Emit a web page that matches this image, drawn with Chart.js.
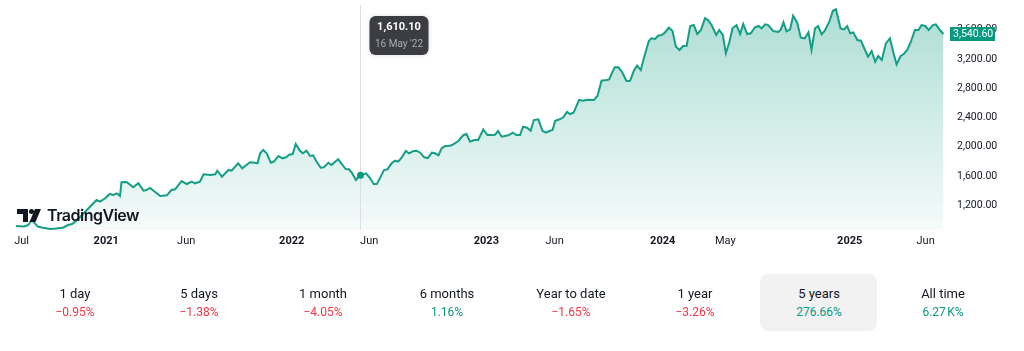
<!DOCTYPE html>
<html>
<head>
<meta charset="utf-8">
<script src="https://cdn.jsdelivr.net/npm/chart.js@4/dist/chart.umd.min.js"></script>
<style>
  html, body { margin: 0; padding: 0; background: #ffffff; width: 1024px; height: 351px; overflow: hidden; font-family: Roboto, 'Liberation Sans', sans-serif; }
  #wrap { position: absolute; left: 0; top: 0; width: 1024px; height: 255px; }
  #logo { position: absolute; left: 17px; top: 207px; height: 16px; display: flex; align-items: center; }
  #logo span { font-family: Inter, Roboto, sans-serif; font-weight: 600; font-size: 16px; letter-spacing: -0.5px; color: #131722; margin-left: 6px; line-height: 16px; }
  #stats { position: absolute; left: 13px; top: 274px; display: flex; }
  .cell { width: 124px; height: 57px; position: relative; text-align: center; }
  .cell.sel::before { content: ""; position: absolute; left: 3px; right: 4px; top: 0; bottom: 0; background: #f2f2f2; border-radius: 8px; }
  .cell .t { position: absolute; left: 0; right: 0; top: 12px; font-size: 13px; color: #131722; line-height: 16px; }
  .cell .v { position: absolute; left: 0; right: 0; top: 31px; font-size: 12px; line-height: 15px; }
  .neg { color: #f23645; }
  .pos { color: #089981; }
</style>
</head>
<body>
<div id="wrap"><canvas id="c"></canvas></div>
<div id="logo">
  <svg width="24" height="13" viewBox="0 0 24 13"><path d="M0 0H11V13H6V5H0Z" fill="#131722"/><circle cx="14.5" cy="2.5" r="2.5" fill="#131722"/><path d="M18 0H24L18.5 13H12.5Z" fill="#131722"/></svg>
  <span>TradingView</span>
</div>
<div id="stats"></div>
<script>
// x values: days since 2020-07-01
const dayOffsets = [9,25,33,40,52,62,76,87,101,111,
119,129,148,167,174,184,193,200,207,213,
216,226,239,249,259,265,272,292,305,314,
321,334,344,354,360,370,377,390,400,404,
413,426,432,445,453,468,478,483,488,494,
501,509,515,524,532,539,545,552,558,566,
572,579,586,592,599,607,613,622,628,641,
648,656,662,668,676,684,696,704,711,717,
723,731,738,746,753,759,766,774,780,789,
795,802,810,817,825,831,838,844,851,861,
867,877,887,893,900,908,916,926,934,942,
949,955,962,975,984,991,998,1004,1012,1019,
1025,1034,1042,1049,1057,1062,1067,1076,1083,1090,
1096,1103,1114,1122,1130,1143,1150,1158,1168,1173,
1178,1184,1191,1198,1207,1214,1222,1228,1235,1241,
1251,1256,1263,1269,1276,1282,1290,1297,1304,1311,
1318,1325,1332,1339,1346,1353,1361,1367,1374,1383,
1389,1396,1402,1409,1415,1423,1430,1436,1444,1451,
1459,1466,1472,1479,1485,1495,1505,1510,1515,1521,
1528,1534,1542,1549,1557,1564,1570,1577,1583,1590,
1596,1605,1612,1618,1627,1634,1640,1646,1652,1660,
1667,1673,1681,1688,1695,1701,1708,1716,1724,1731,
1737,1745,1751,1758,1765,1773,1780,1786,1793,1800,
1808,1814,1822,1829];

const prices = [918,911,931,1000,908,894,877,883,894,931,
945,1000,1136,1273,1250,1296,1355,1341,1364,1327,
1515,1519,1446,1501,1400,1409,1437,1327,1337,1409,
1419,1532,1491,1523,1501,1523,1624,1614,1624,1673,
1591,1683,1673,1774,1706,1788,1782,1774,1911,1956,
1911,1782,1796,1874,1842,1856,1892,1901,2038,1946,
1911,1946,1874,1883,1796,1714,1719,1782,1751,1829,
1765,1696,1692,1646,1546,1610.10,1637,1569,1491,1490,
1569,1682,1692,1774,1810,1796,1856,1942,1911,1942,
1946,1919,1856,1846,1919,1911,1883,1979,2010,2014,
2034,2079,2161,2174,2069,2092,2092,2238,2161,2161,
2165,2215,2137,2156,2192,2161,2161,2274,2260,2219,
2365,2375,2219,2192,2219,2229,2356,2375,2402,2475,
2447,2465,2639,2629,2643,2639,2693,2902,2912,2921,
3003,3085,3085,3025,2898,2902,3048,3107,3048,3208,
3449,3481,3472,3517,3527,3558,3626,3585,3367,3322,
3376,3380,3650,3663,3540,3595,3755,3731,3663,3527,
3595,3527,3277,3435,3618,3663,3540,3677,3540,3550,
3632,3650,3618,3673,3663,3581,3568,3604,3700,3577,
3604,3790,3695,3490,3481,3563,3322,3618,3650,3536,
3585,3708,3858,3878,3618,3604,3650,3550,3563,3458,
3449,3353,3230,3308,3162,3240,3185,3413,3481,3277,
3126,3240,3267,3322,3435,3595,3595,3663,3650,3595,
3663,3673,3595,3540.60];

const xTickDays = [20, 186, 343, 550, 702, 932, 1066, 1278, 1401, 1645, 1794];
const xTickLabels = ['Jul', '2021', 'Jun', '2022', 'Jun', '2023', 'Jun', '2024', 'May', '2025', 'Jun'];
const yTickValues = [1200, 1600, 2000, 2400, 2800, 3200, 3600];

const highlightDay = 684;
const highlightDate = "16 May '22";

const periodLabels = ['1 day', '5 days', '1 month', '6 months', 'Year to date', '1 year', '5 years', 'All time'];
const periodChanges = ['\u22120.95%', '\u22121.38%', '\u22124.05%', '1.16%', '\u22121.65%', '\u22123.26%', '276.66%', '6.27\u202FK%'];
const selectedPeriod = '5 years';

// stats row
const stats = document.getElementById('stats');
periodLabels.forEach((lab, i) => {
  const c = document.createElement('div');
  c.className = 'cell' + (lab === selectedPeriod ? ' sel' : '');
  const t = document.createElement('div'); t.className = 't'; t.textContent = lab;
  const v = document.createElement('div');
  v.className = 'v ' + (periodChanges[i].startsWith('\u2212') ? 'neg' : 'pos');
  v.textContent = periodChanges[i];
  c.appendChild(t); c.appendChild(v); stats.appendChild(c);
});

const LINE = '#149e85';
const FONT = "Roboto, 'Liberation Sans', sans-serif";
const fmt = v => v.toLocaleString('en-US', { minimumFractionDigits: 2, maximumFractionDigits: 2 });

const overlay = {
  id: 'overlay',
  afterDatasetsDraw(chart) {
    const { ctx, chartArea, scales } = chart;
    const idx = dayOffsets.indexOf(highlightDay);
    const px = Math.round(scales.x.getPixelForValue(dayOffsets[idx])) + 0.5;
    const py = scales.y.getPixelForValue(prices[idx]);
    ctx.save();
    ctx.strokeStyle = '#dcdee3';
    ctx.lineWidth = 1;
    ctx.beginPath(); ctx.moveTo(px, 5); ctx.lineTo(px, chartArea.bottom); ctx.stroke();
    ctx.fillStyle = '#089981';
    ctx.beginPath(); ctx.arc(px, py, 3.5, 0, Math.PI * 2); ctx.fill();
    // tooltip
    const bx = px + 9, by = 16, bw = 59, bh = 39;
    ctx.shadowColor = 'rgba(0,0,0,0.15)'; ctx.shadowBlur = 4;
    ctx.fillStyle = '#3b3d43';
    ctx.beginPath(); ctx.roundRect(bx, by, bw, bh, 6); ctx.fill();
    ctx.shadowBlur = 0;
    ctx.textAlign = 'center'; ctx.textBaseline = 'middle';
    ctx.fillStyle = '#ffffff';
    ctx.font = 'bold 11px ' + FONT;
    ctx.fillText(fmt(prices[idx]), bx + bw / 2, by + 11.5);
    ctx.fillStyle = '#a9acb3';
    ctx.font = '10px ' + FONT;
    ctx.fillText(highlightDate, bx + bw / 2, by + 28);
    ctx.restore();
  },
  afterDraw(chart) {
    const { ctx, chartArea, scales } = chart;
    const last = prices[prices.length - 1];
    const y = scales.y.getPixelForValue(last);
    ctx.save();
    ctx.fillStyle = '#089981';
    ctx.fillRect(chartArea.right + 5, Math.round(y) - 7, 45, 14);
    ctx.fillStyle = '#ffffff';
    ctx.font = '10.5px ' + FONT;
    ctx.textAlign = 'left'; ctx.textBaseline = 'middle';
    ctx.fillText(fmt(last), chartArea.right + 8, Math.round(y));
    ctx.restore();
  }
};

new Chart(document.getElementById('c'), {
  type: 'line',
  data: {
    datasets: [{
      data: dayOffsets.map((d, i) => ({ x: d, y: prices[i] })),
      borderColor: LINE,
      borderWidth: 2,
      pointRadius: 0,
      tension: 0,
      fill: 'start',
      backgroundColor: (c) => {
        const a = c.chart.chartArea;
        if (!a) return 'rgba(20,158,133,0.2)';
        const g = c.chart.ctx.createLinearGradient(0, a.top, 0, a.bottom);
        g.addColorStop(0, 'rgba(20,158,133,0.36)');
        g.addColorStop(1, 'rgba(20,158,133,0.04)');
        return g;
      }
    }]
  },
  options: {
    responsive: true,
    maintainAspectRatio: false,
    animation: false,
    layout: { padding: { left: 15, right: 0, top: 0, bottom: 0 } },
    plugins: { legend: { display: false }, tooltip: { enabled: false } },
    scales: {
      x: {
        type: 'linear',
        min: 7, max: 1832,
        grid: { display: false, drawTicks: false },
        border: { display: false },
        afterBuildTicks: (axis) => { axis.ticks = xTickDays.map(v => ({ value: v })); },
        afterFit: (axis) => { axis.height = 25; axis.paddingLeft = 0; axis.paddingRight = 0; },
        ticks: {
          autoSkip: false, maxRotation: 0, padding: 5, color: '#131722',
          font: (c) => {
            const i = xTickDays.indexOf(c.tick && c.tick.value);
            const isYear = i >= 0 && /^\d{4}$/.test(xTickLabels[i]);
            return { family: FONT, size: 11, weight: isYear ? 'bold' : 'normal' };
          },
          callback: (v) => { const i = xTickDays.indexOf(v); return i >= 0 ? xTickLabels[i] : ''; }
        }
      },
      y: {
        position: 'right',
        min: 863, max: 4005,
        grid: { display: false, drawTicks: false },
        border: { display: false },
        afterBuildTicks: (axis) => { axis.ticks = yTickValues.map(v => ({ value: v })); },
        afterFit: (axis) => { axis.width = 79; axis.paddingTop = 0; axis.paddingBottom = 0; },
        ticks: {
          padding: 12, color: '#131722',
          font: { family: FONT, size: 10.5 },
          callback: (v) => fmt(v)
        }
      }
    }
  },
  plugins: [overlay]
});
</script>
</body>
</html>
